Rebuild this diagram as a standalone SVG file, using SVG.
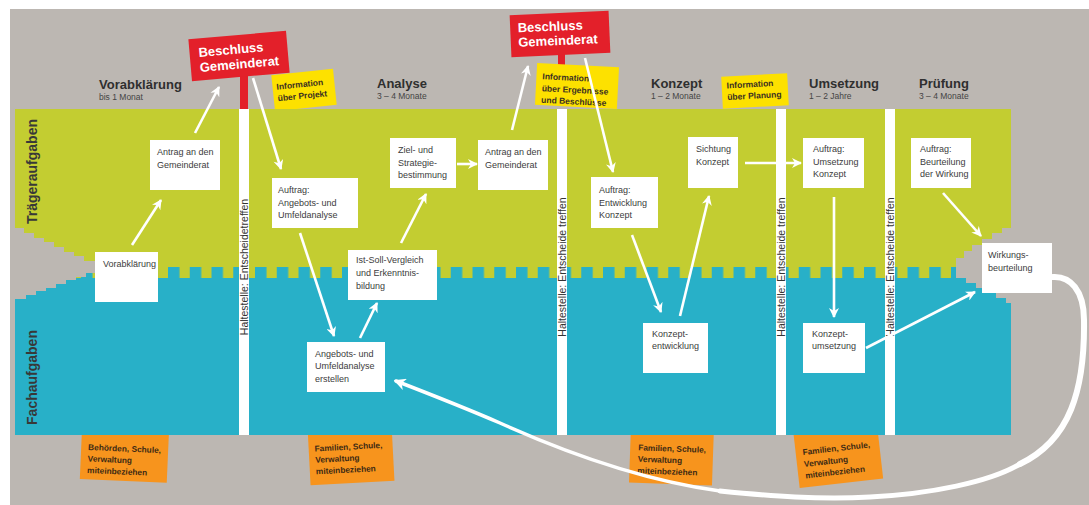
<svg xmlns="http://www.w3.org/2000/svg" width="1089" height="505" viewBox="0 0 1089 505">
<defs>
<style>
.ff{font-family:"Liberation Sans",Arial,sans-serif}
.node rect{fill:#fff}
.node text{font-family:"Liberation Sans",Arial,sans-serif;font-size:9px;fill:#3c3c3c}
.h{font-family:"Liberation Sans",Arial,sans-serif;font-weight:bold;font-size:13px;fill:#2f2f2f}
.s{font-family:"Liberation Sans",Arial,sans-serif;font-size:8.5px;fill:#444}
.sign rect{fill:#e3202a}
.sign text{font-family:"Liberation Sans",Arial,sans-serif;font-weight:bold;font-size:13px;fill:#fff}
.post{fill:#e3202a}
.info rect{fill:#fde100}
.info text{font-family:"Liberation Sans",Arial,sans-serif;font-weight:bold;font-size:8.5px;fill:#3b3020}
.inv rect{fill:#f7941d}
.inv text{font-family:"Liberation Sans",Arial,sans-serif;font-weight:bold;font-size:8.3px;fill:#3d2a14}
.bar{fill:#fff}
.bart{font-family:"Liberation Sans",Arial,sans-serif;font-size:10.5px;fill:#333}
.row{font-family:"Liberation Sans",Arial,sans-serif;font-weight:bold;font-size:14px;fill:#383838}
.notch{fill:#bcb7b2}
.arr{stroke:#fff;stroke-width:2.6;fill:none;marker-end:url(#ah)}
.big{stroke:#fff;fill:none;stroke-linecap:round}
</style>
<marker id="ah" viewBox="0 0 10 10" refX="9" refY="5" markerWidth="11" markerHeight="10" markerUnits="userSpaceOnUse" orient="auto"><path d="M0,0 L10,5 L0,10 L3,5 z" fill="#fff"/></marker>
<marker id="ah2" viewBox="0 0 10 10" refX="8" refY="5" markerWidth="14" markerHeight="12" markerUnits="userSpaceOnUse" orient="auto"><path d="M0,0 L10,5 L0,10 L3,5 z" fill="#fff"/></marker>
<pattern id="teeth" x="168" y="0" width="21.75" height="505" patternUnits="userSpaceOnUse"><rect x="0" y="267" width="11.5" height="12" fill="#28b0c8"/></pattern>
</defs>

<rect x="0" y="0" width="1089" height="505" fill="#fff"/>
<rect x="10" y="9" width="1079" height="496" fill="#bcb7b2"/>

<!-- orange involvement boxes (under band) -->
<g id="inv1" class="inv" transform="rotate(2.5 124.5 453)"><rect x="81" y="425" width="87" height="56"/><text x="88" y="451.5">Behörden, Schule,</text><text x="88" y="463">Verwaltung</text><text x="88" y="474.5">miteinbeziehen</text></g>
<g id="inv2" class="inv" transform="rotate(-3 351 454)"><rect x="309" y="425" width="84" height="58"/><text x="315" y="449.5">Familien, Schule,</text><text x="315" y="461">Verwaltung</text><text x="315" y="472.5">miteinbeziehen</text></g>
<g id="inv3" class="inv" transform="rotate(2 671.5 454.5)"><rect x="630" y="425" width="83" height="59"/><text x="638" y="451.5">Familien, Schule,</text><text x="638" y="463">Verwaltung</text><text x="638" y="474.5">miteinbeziehen</text></g>
<g id="inv4" class="inv" transform="rotate(-6.5 839 462)"><rect x="797" y="425" width="84" height="58.4"/><text x="804" y="451">Familien, Schule,</text><text x="804" y="463">Verwaltung</text><text x="804" y="474.5">miteinbeziehen</text></g>

<!-- posts -->
<rect class="post" x="240" y="70" width="8" height="40"/>
<rect class="post" x="558" y="50" width="7" height="20"/>

<!-- yellow info boxes -->
<g id="info1" class="info" transform="rotate(-6 304 90)"><rect x="273" y="72" width="62" height="36"/><text x="277" y="87">Information</text><text x="277" y="98.5">über Projekt</text></g>
<g id="info2" class="info" transform="rotate(3 577 86)"><rect x="536" y="65" width="82" height="42"/><text x="542" y="81">Information</text><text x="542" y="93">über Ergebnisse</text><text x="542" y="104.5">und Beschlüsse</text></g>
<g id="info3" class="info" transform="rotate(-3 755 91)"><rect x="722" y="75" width="66" height="32"/><text x="727" y="87">Information</text><text x="727" y="98.5">über Planung</text></g>

<!-- band -->
<g id="band">
<rect x="15" y="109" width="996" height="169" fill="#c3cd31"/>
<rect x="15" y="278" width="996" height="157" fill="#28b0c8"/>
<rect x="15" y="267" width="996" height="11" fill="url(#teeth)"/>
<polygon class="notch" points="14,228 24,228 24,233 34,233 34,238 44,238 44,242 54,242 54,247 64,247 64,252 74,252 74,256 84,256 84,261 97,261 97,273 86,273 86,277 76,277 76,280 66,280 66,284 56,284 56,288 46,288 46,291 36,291 36,295 26,295 26,299 14,299"/>
<polygon class="notch" points="1012,228 1002,228 1002,233 992,233 992,239 982,239 982,245 972,245 972,251 964,251 964,258 956,258 956,278 966,278 966,283 976,283 976,288 986,288 986,293 996,293 996,298 1006,298 1006,303 1012,303"/>
</g>

<text class="row" transform="translate(36.5,171.5) rotate(-90)" text-anchor="middle">Trägeraufgaben</text>
<text class="row" transform="translate(36.5,377.5) rotate(-90)" text-anchor="middle">Fachaufgaben</text>

<!-- stops -->
<g id="stop1"><rect class="bar" x="239" y="109" width="10" height="326"/><text class="bart" transform="translate(248,267) rotate(-90)" text-anchor="middle">Haltestelle: Entscheidetreffen</text></g>
<g id="stop2"><rect class="bar" x="557" y="109" width="10" height="326"/><text class="bart" transform="translate(566,267) rotate(-90)" text-anchor="middle">Haltestelle: Entscheide treffen</text></g>
<g id="stop3"><rect class="bar" x="776" y="109" width="10" height="326"/><text class="bart" transform="translate(785,267) rotate(-90)" text-anchor="middle">Haltestelle: Entscheide treffen</text></g>
<g id="stop4"><rect class="bar" x="885" y="109" width="10" height="326"/><text class="bart" transform="translate(894,267) rotate(-90)" text-anchor="middle">Haltestelle: Entscheide treffen</text></g>

<!-- signs -->
<g id="beschluss1" class="sign" transform="rotate(-5 239 56)"><rect x="190" y="35" width="98" height="42"/><text x="199" y="53.5">Beschluss</text><text x="199" y="68.5">Gemeinderat</text></g>
<g id="beschluss2" class="sign" transform="rotate(-2.5 560 34)"><rect x="510.5" y="13" width="99" height="42"/><text x="518" y="30.5">Beschluss</text><text x="518" y="45">Gemeinderat</text></g>

<!-- phase headers -->
<g id="phases">
<text class="h" x="99" y="89">Vorabklärung</text><text class="s" x="99" y="100">bis 1 Monat</text>
<text class="h" x="377" y="88">Analyse</text><text class="s" x="377" y="99">3 – 4 Monate</text>
<text class="h" x="651" y="88">Konzept</text><text class="s" x="651" y="99">1 – 2 Monate</text>
<text class="h" x="809" y="88">Umsetzung</text><text class="s" x="809" y="99">1 – 2 Jahre</text>
<text class="h" x="919" y="88">Prüfung</text><text class="s" x="919" y="99">3 – 4 Monate</text>
</g>

<!-- nodes -->
<g id="n-antrag1" class="node"><rect x="150" y="140" width="70" height="50"/><text x="157" y="155">Antrag an den</text><text x="157" y="167.5">Gemeinderat</text></g>
<g id="n-vorab" class="node"><rect x="95" y="252" width="63" height="50"/><text x="103" y="267">Vorabklärung</text></g>
<g id="n-auftrag-analyse" class="node"><rect x="272" y="178" width="86" height="50"/><text x="278" y="193">Auftrag:</text><text x="278" y="205.5">Angebots- und</text><text x="278" y="218">Umfeldanalyse</text></g>
<g id="n-ziel" class="node"><rect x="390" y="138" width="66" height="50"/><text x="398" y="153">Ziel- und</text><text x="398" y="165.5">Strategie-</text><text x="398" y="178">bestimmung</text></g>
<g id="n-antrag2" class="node"><rect x="478" y="140" width="70" height="50"/><text x="485" y="155">Antrag an den</text><text x="485" y="167.5">Gemeinderat</text></g>
<g id="n-istsoll" class="node"><rect x="348" y="250" width="89" height="50"/><text x="356" y="263">Ist-Soll-Vergleich</text><text x="356" y="276">und Erkenntnis-</text><text x="356" y="289">bildung</text></g>
<g id="n-angebots" class="node"><rect x="307" y="342" width="78" height="50"/><text x="315" y="356.5">Angebots- und</text><text x="315" y="369">Umfeldanalyse</text><text x="315" y="381.5">erstellen</text></g>
<g id="n-auftrag-konzept" class="node"><rect x="591" y="177" width="67" height="51"/><text x="599" y="193">Auftrag:</text><text x="599" y="205.5">Entwicklung</text><text x="599" y="218">Konzept</text></g>
<g id="n-sichtung" class="node"><rect x="688" y="137" width="50" height="51"/><text x="696" y="152">Sichtung</text><text x="696" y="164.5">Konzept</text></g>
<g id="n-konzeptentw" class="node"><rect x="643" y="323" width="65" height="50"/><text x="652" y="336.5">Konzept-</text><text x="652" y="349">entwicklung</text></g>
<g id="n-auftrag-umsetzung" class="node"><rect x="803" y="138" width="61" height="50"/><text x="813" y="152">Auftrag:</text><text x="813" y="164.5">Umsetzung</text><text x="813" y="177">Konzept</text></g>
<g id="n-konzeptums" class="node"><rect x="803" y="323" width="62" height="50"/><text x="812" y="336.5">Konzept-</text><text x="812" y="349">umsetzung</text></g>
<g id="n-auftrag-beurteilung" class="node"><rect x="911" y="138" width="60" height="50"/><text x="920" y="152">Auftrag:</text><text x="920" y="164.5">Beurteilung</text><text x="920" y="177">der Wirkung</text></g>
<g id="n-wirkung" class="node"><rect x="982" y="243" width="70" height="50"/><text x="988" y="258">Wirkungs-</text><text x="988" y="271">beurteilung</text></g>

<!-- connectors -->
<g id="connectors">
<line class="arr" x1="132" y1="245" x2="161" y2="200"/>
<line class="arr" x1="195" y1="133" x2="219" y2="87"/>
<line class="arr" x1="253" y1="78" x2="281" y2="169"/>
<line class="arr" x1="300" y1="233" x2="334" y2="336"/>
<line class="arr" x1="360" y1="338" x2="377" y2="303"/>
<line class="arr" x1="401" y1="243" x2="426" y2="194"/>
<line class="arr" x1="457" y1="164" x2="477" y2="164"/>
<line class="arr" x1="512" y1="130" x2="528" y2="66"/>
<line class="arr" x1="585" y1="58" x2="613" y2="172"/>
<line class="arr" x1="632" y1="235" x2="661" y2="312"/>
<line class="arr" x1="680" y1="316" x2="709" y2="196"/>
<line class="arr" x1="745" y1="163" x2="801" y2="163"/>
<line class="arr" x1="834" y1="197" x2="834" y2="317"/>
<line class="arr" x1="866" y1="348" x2="975" y2="292"/>
<line class="arr" x1="943" y1="193" x2="981" y2="236"/>
<path class="big" stroke-width="6" d="M1053,277 C1070,276 1084,290 1084,320 C1085,390 1070,440 1020,464"/>
<path class="big" stroke-width="5" d="M1020,464 C990,482 930,494 870,497 C820,500 770,496 720,491"/>
<path class="big" stroke-width="3.5" marker-end="url(#ah2)" d="M720,491 C640,480 560,450 500,423 C470,410 440,398 396,381"/>
</g>
</svg>
